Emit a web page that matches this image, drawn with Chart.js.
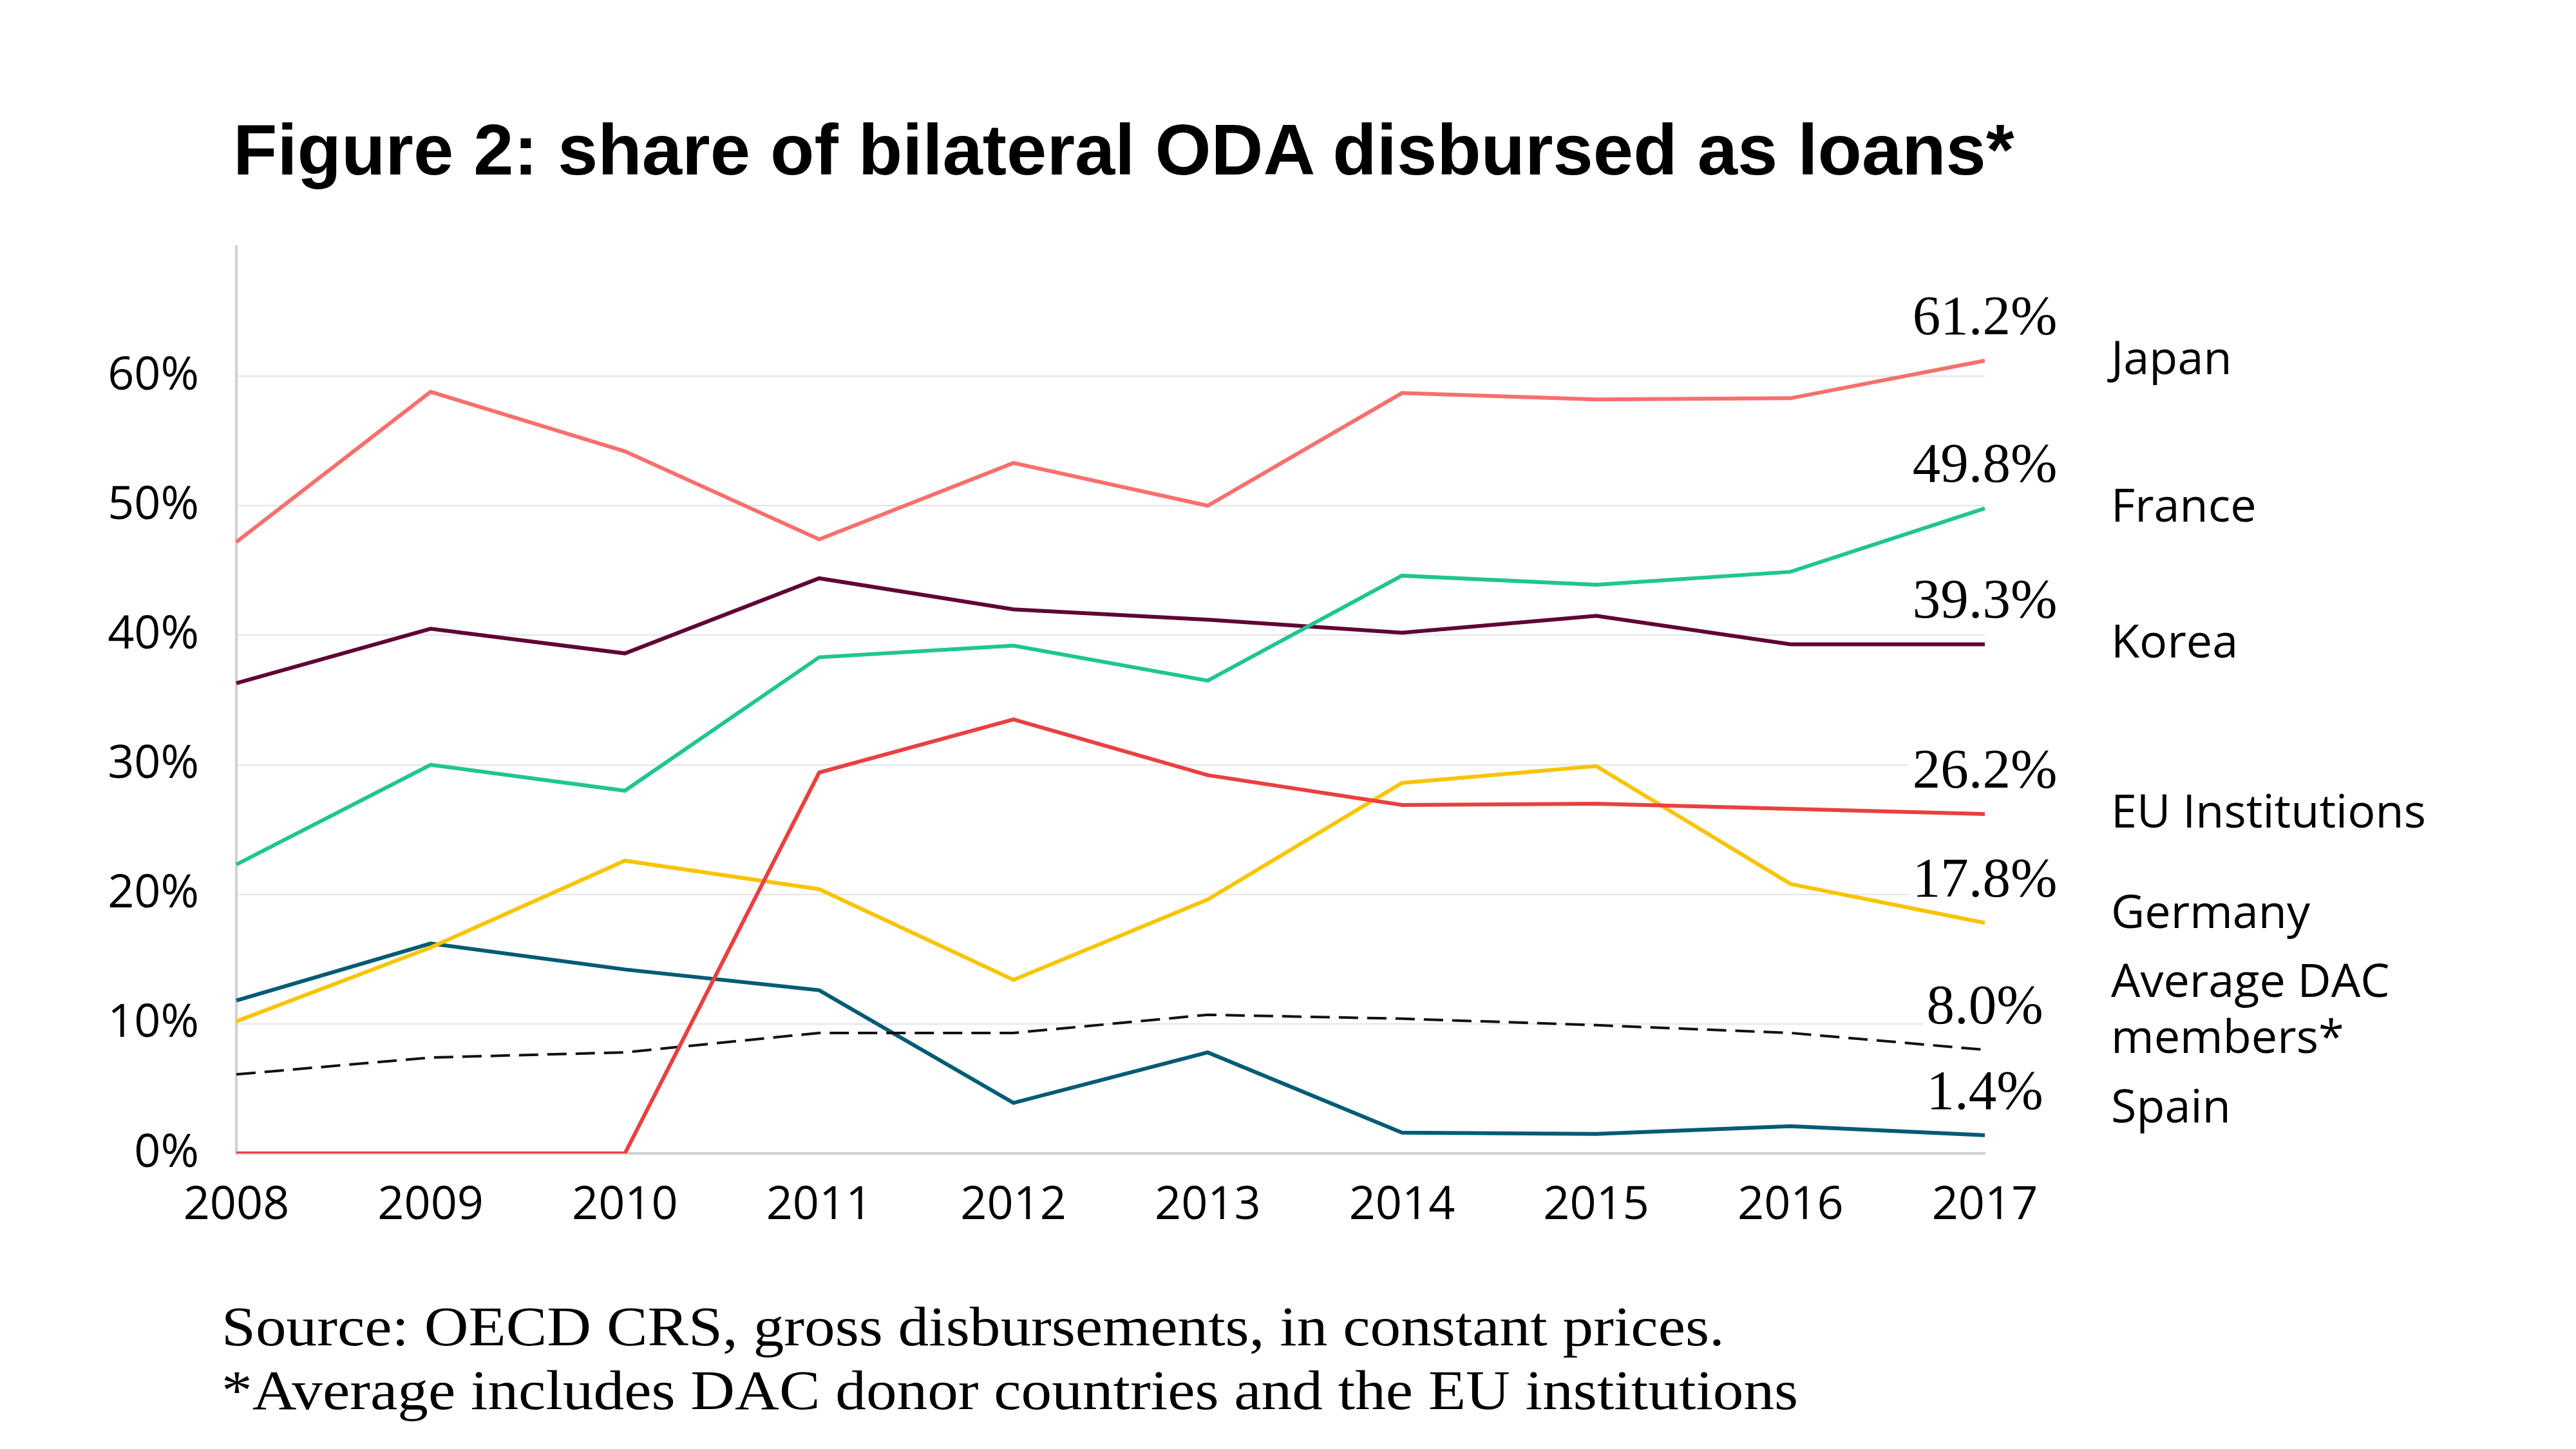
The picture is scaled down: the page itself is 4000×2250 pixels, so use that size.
<!DOCTYPE html>
<html>
<head>
<meta charset="utf-8">
<script src="https://cdn.jsdelivr.net/npm/chart.js@4/dist/chart.umd.min.js"></script>
<style>
  html, body { margin: 0; padding: 0; background: #fff; }
  #wrap { position: relative; width: 4000px; height: 2250px; }
  #title {
    position: absolute; left: 362px; top: 177px;
    font-family: "Liberation Sans", Arial, sans-serif; font-weight: bold;
    font-size: 112px; line-height: 1; color: #000; white-space: nowrap;
  }
  #note {
    position: absolute; left: 344px; top: 2010px;
    font-family: "Liberation Serif", "Times New Roman", serif;
    font-size: 87px; line-height: 99px; color: #000; white-space: nowrap;
    transform: scaleX(1.095); transform-origin: 0 0;
  }
  canvas { position: absolute; left: 0; top: 0; }
</style>
</head>
<body>
<div id="wrap">
  <canvas id="chart" width="4000" height="2250"></canvas>
  <div id="title">Figure 2: share of bilateral ODA disbursed as loans*</div>
  <div id="note">Source: OECD CRS, gross disbursements, in constant prices.<br>*Average includes DAC donor countries and the EU institutions</div>
</div>
<script>
// share of bilateral ODA disbursed as loans, %
const years = ["2008", "2009", "2010", "2011", "2012", "2013", "2014", "2015", "2016", "2017"];
const japan   = [47.2, 58.8, 54.2, 47.4, 53.3, 50.0, 58.7, 58.2, 58.3, 61.2];
const france  = [22.3, 30.0, 28.0, 38.3, 39.2, 36.5, 44.6, 43.9, 44.9, 49.8];
const korea   = [36.3, 40.5, 38.6, 44.4, 42.0, 41.2, 40.2, 41.5, 39.3, 39.3];
const euInst  = [0, 0, 0, 29.4, 33.5, 29.2, 26.9, 27.0, 26.6, 26.2];
const germany = [10.2, 15.9, 22.6, 20.4, 13.4, 19.6, 28.6, 29.9, 20.8, 17.8];
const dacAvg  = [6.1, 7.4, 7.8, 9.3, 9.3, 10.7, 10.4, 9.9, 9.3, 8.0];
const spain   = [11.8, 16.2, 14.2, 12.6, 3.9, 7.8, 1.6, 1.5, 2.1, 1.4];

const seriesNames = ["Japan", "France", "Korea", "EU Institutions", "Germany", "Average DAC members*", "Spain"];
// where the names sit on the right, in axis units
const nameLines = [["Japan"], ["France"], ["Korea"], ["EU Institutions"], ["Germany"], ["Average DAC", "members*"], ["Spain"]];
const nameAt = [61.2, 49.8, 39.3, 26.2, 18.4, 10.95, 3.4];

const colors = ["#f6706d", "#20c592", "#5e0634", "#e8413f", "#f8c404", "#111111", "#005b75"];
const allData = [japan, france, korea, euInst, germany, dacAvg, spain];

const SANS = '"Open Sans", "Noto Sans", sans-serif';
const SERIF = '"Liberation Serif", "Times New Roman", serif';

const endLabels = {
  id: "endLabels",
  beforeDatasetsDraw(chart) {
    // white boxes behind end values, they cut the gridlines like the original
    const ctx = chart.ctx;
    ctx.save();
    ctx.font = "87px " + SERIF;
    ctx.fillStyle = "#fff";
    chart.data.datasets.forEach((ds, i) => {
      const pt = chart.getDatasetMeta(i).data[ds.data.length - 1];
      const txt = ds.data[ds.data.length - 1].toFixed(1) + "%";
      const w = ctx.measureText(txt).width;
      ctx.fillRect(pt.x - w / 2 - 6, pt.y - 64 - 40, w + 12, 76);
    });
    ctx.restore();
  },
  afterDatasetsDraw(chart) {
    const ctx = chart.ctx;
    const yScale = chart.scales.y;
    ctx.save();
    ctx.fillStyle = "#000";
    ctx.textBaseline = "middle";
    chart.data.datasets.forEach((ds, i) => {
      const pt = chart.getDatasetMeta(i).data[ds.data.length - 1];
      const txt = ds.data[ds.data.length - 1].toFixed(1) + "%";
      ctx.font = "87px " + SERIF;
      ctx.textAlign = "center";
      ctx.fillText(txt, pt.x, pt.y - 64);

      ctx.font = "72px " + SANS;
      ctx.textAlign = "left";
      const lines = nameLines[i];
      const cy = yScale.getPixelForValue(nameAt[i]);
      const lh = 87;
      lines.forEach((ln, k) => {
        ctx.fillText(ln, 3278, cy + (k - (lines.length - 1) / 2) * lh);
      });
    });
    ctx.restore();
  }
};

const datasets = allData.map((d, i) => ({
  label: seriesNames[i],
  data: d,
  borderColor: colors[i],
  backgroundColor: colors[i],
  borderWidth: i === 5 ? 4 : 6,
  borderDash: i === 5 ? [30, 14] : [],
  pointRadius: 0,
  tension: 0,
  fill: false
}));

new Chart(document.getElementById("chart"), {
  type: "line",
  data: { labels: years, datasets: datasets },
  plugins: [endLabels],
  options: {
    responsive: false,
    animation: false,
    events: [],
    layout: { padding: { left: 0, right: 918, top: 383, bottom: 0 } },
    plugins: {
      legend: { display: false },
      tooltip: { enabled: false },
      title: { display: false }
    },
    scales: {
      x: {
        offset: false,
        afterFit(scale) { scale.height = 459; },
        grid: { display: false, drawTicks: false },
        border: { display: true, color: "#d0d0d0", width: 4 },
        ticks: {
          autoSkip: false, maxRotation: 0, padding: 38,
          color: "#000", font: { family: SANS, size: 72 }
        }
      },
      y: {
        min: 0, max: 70,
        afterFit(scale) { scale.width = 367; },
        grid: {
          drawTicks: false, lineWidth: 2,
          color: (c) => (c.tick && (c.tick.value === 70 || c.tick.value === 0)) ? "rgba(0,0,0,0)" : "#e4e4e4"
        },
        border: { display: true, color: "#d0d0d0", width: 4 },
        ticks: {
          stepSize: 10, padding: 58, color: "#000",
          font: { family: SANS, size: 72 },
          callback: (v) => v === 70 ? "" : v + "%"
        }
      }
    }
  }
});
</script>
</body>
</html>
